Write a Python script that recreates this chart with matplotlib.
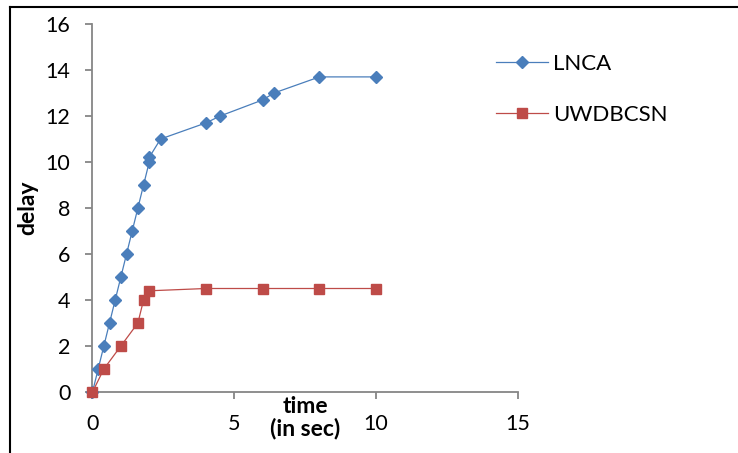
import matplotlib
matplotlib.use("Agg")
import matplotlib.pyplot as plt
from matplotlib.lines import Line2D

plt.rcParams['font.family'] = ['Lato', 'DejaVu Sans']

lnca_x = [0, 0.2, 0.4, 0.6, 0.8, 1.0, 1.2, 1.4, 1.6, 1.8, 2.0, 2.0, 2.4, 4.0, 4.5, 6.0, 6.4, 8.0, 10.0]
lnca_y = [0, 1, 2, 3, 4, 5, 6, 7, 8, 9, 10, 10.2, 11, 11.7, 12, 12.7, 13, 13.7, 13.7]
uw_x = [0, 0.4, 1.0, 1.6, 1.8, 2.0, 4.0, 6.0, 8.0, 10.0]
uw_y = [0, 1, 2, 3, 4, 4.4, 4.5, 4.5, 4.5, 4.5]
x_ticks = [0, 5, 10, 15]
y_ticks = [0, 2, 4, 6, 8, 10, 12, 14, 16]

fig = plt.figure(figsize=(7.38, 4.53), dpi=100)
ax = fig.add_axes([92.5/738, 1-392/453, (518-92.5)/738, (392-24)/453])

blue = '#4A7EBB'
red = '#BE4B48'
ax.plot(lnca_x, lnca_y, color=blue, lw=0.9, marker='D', ms=6.3, mfc=blue, mec=blue,
        label='LNCA', zorder=2, clip_on=False)
ax.plot(uw_x, uw_y, color=red, lw=0.9, marker='s', ms=6.5, mfc=red, mec=red,
        label='UWDBCSN', zorder=3, clip_on=False)

ax.set_xlim(0, 15)
ax.set_ylim(0, 16)
ax.set_xticks(x_ticks)
ax.set_yticks(y_ticks)
for s in ['top', 'right']:
    ax.spines[s].set_visible(False)
for s in ['left', 'bottom']:
    ax.spines[s].set_color('#868686')
    ax.spines[s].set_linewidth(1.3)
    ax.spines[s].set_zorder(1)
ax.tick_params(axis='both', colors='#868686', length=5, width=1.3, labelsize=15.5, labelcolor='black')
ax.tick_params(axis='y', pad=11)
ax.tick_params(axis='x', pad=11)

ax.set_xlabel('time\n(in sec)', fontsize=16.5, fontweight='bold', linespacing=1.0)
ax.xaxis.set_label_coords(0.5, -0.012)
ax.set_ylabel('delay', fontsize=16.5, fontweight='bold')
ax.yaxis.set_label_coords(-0.128, 0.5)

fig.legend(loc='upper left', bbox_to_anchor=(496/738, 1-54/453), frameon=False,
           fontsize=16, handlelength=2.34, handletextpad=0.23, labelspacing=1.38,
           borderpad=0, borderaxespad=0)

# figure border (top and left)
fig.add_artist(Line2D([10/738, 1], [1-7/453, 1-7/453], transform=fig.transFigure, color='black', lw=1.5))
fig.add_artist(Line2D([10/738, 10/738], [0, 1-7/453], transform=fig.transFigure, color='black', lw=1.5))

fig.savefig('out.png', dpi=100)
